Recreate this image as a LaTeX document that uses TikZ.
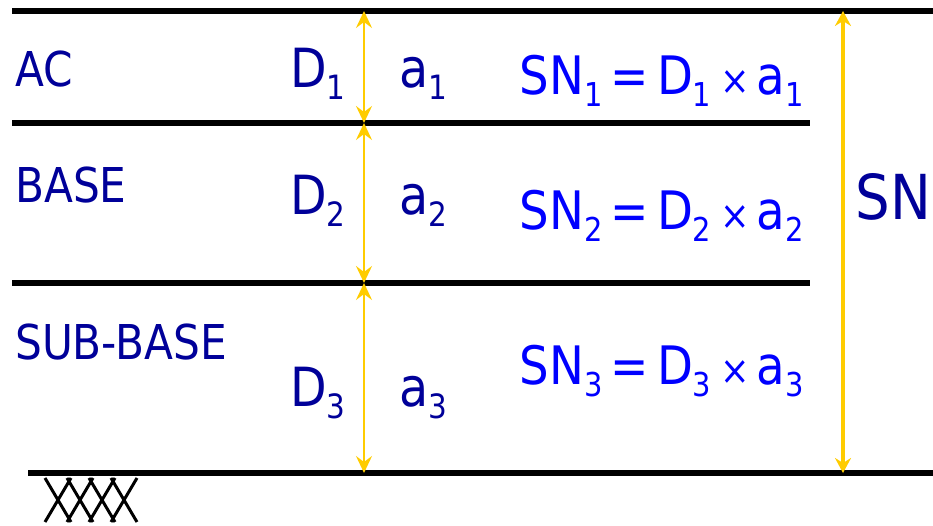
\documentclass[tikz,border=0pt]{standalone}
\usepackage{fontspec}
\setmainfont{DejaVu Sans}[FakeStretch=0.88]
\usepackage{graphicx}
\usetikzlibrary{arrows.meta}
\newcommand{\lsub}[1]{\raisebox{-0.22em}{\scalebox{0.62}{#1}}}
\newcommand{\eqsym}{\hspace{8pt}{\fontsize{52}{52}\selectfont =}\hspace{8pt}}
\newcommand{\timessym}{\hspace{9pt}{\fontsize{40}{40}\selectfont ×}\hspace{7pt}}

\begin{document}
\begin{tikzpicture}[x=1pt,y=1pt, every node/.style={inner sep=0pt},
  layerline/.style={draw=black, line width=6pt},
  layername/.style={anchor=base west, font=\fontsize{48}{56}\selectfont, text=nv},
  dimlabel/.style={anchor=base west, font=\fontsize{54}{64}\selectfont, text=nv},
  eqn/.style={anchor=base east, font=\fontsize{53}{64}\selectfont, text=bl},
  dimarrow/.style={draw=yl, line width=2pt, {Stealth[length=17pt,width=16pt,inset=6pt]}-{Stealth[length=17pt,width=16pt,inset=6pt]}},
  totarrow/.style={draw=yl, line width=4pt, {Stealth[length=15pt,width=16pt,inset=5pt]}-{Stealth[length=15pt,width=16pt,inset=5pt]}}]
\definecolor{nv}{HTML}{000099}\definecolor{bl}{HTML}{0000FF}
\definecolor{yl}{HTML}{FFCC00}
\useasboundingbox (0,0) rectangle (933,526);
% layer boundaries
\coordinate (top) at (364,515);
\coordinate (b1) at (364,403);
\coordinate (b2) at (364,243);
\coordinate (sub) at (364,53);
\coordinate (snt) at (843,515);
\coordinate (snb) at (843,53);
\draw[layerline] (12,515) -- (933,515);
\draw[layerline] (12,403) -- (810,403);
\draw[layerline] (12,243) -- (810,243);
\draw[layerline] (28,53) -- (933,53);
% subgrade hatch
\foreach \i in {0,1,2,3}
  \draw[line width=3pt] (45+22*\i,48) -- (71+22*\i,4) (71+22*\i,48) -- (45+22*\i,4);
% thickness arrows
\draw[dimarrow] (top) -- (b1);
\draw[dimarrow] (b1) -- (b2);
\draw[dimarrow] (b2) -- (sub);
\draw[totarrow] (snt) -- (snb);
% labels
\node[layername] (ac) at (15,439) {AC};
\node[layername] (base) at (15,323) {BASE};
\node[layername] (subbase) at (15,166) {SUB-BASE};
\node[dimlabel] (d1) at (290,438) {D\lsub{1}};
\node[dimlabel] (d2) at (290,311) {D\lsub{2}};
\node[dimlabel] (d3) at (290,119) {D\lsub{3}};
\node[dimlabel] (a1) at (399,438) {a\lsub{1}};
\node[dimlabel] (a2) at (399,311) {a\lsub{2}};
\node[dimlabel] (a3) at (399,119) {a\lsub{3}};
\node[eqn] (sn1) at (804,431) {SN\lsub{1}\eqsym D\lsub{1}\timessym a\lsub{1}};
\node[eqn] (sn2) at (804,296) {SN\lsub{2}\eqsym D\lsub{2}\timessym a\lsub{2}};
\node[eqn] (sn3) at (804,141) {SN\lsub{3}\eqsym D\lsub{3}\timessym a\lsub{3}};
\node[anchor=base east, font=\fontsize{62}{72}\selectfont, text=nv] (sn) at (931,306) {SN};
\end{tikzpicture}
\end{document}
